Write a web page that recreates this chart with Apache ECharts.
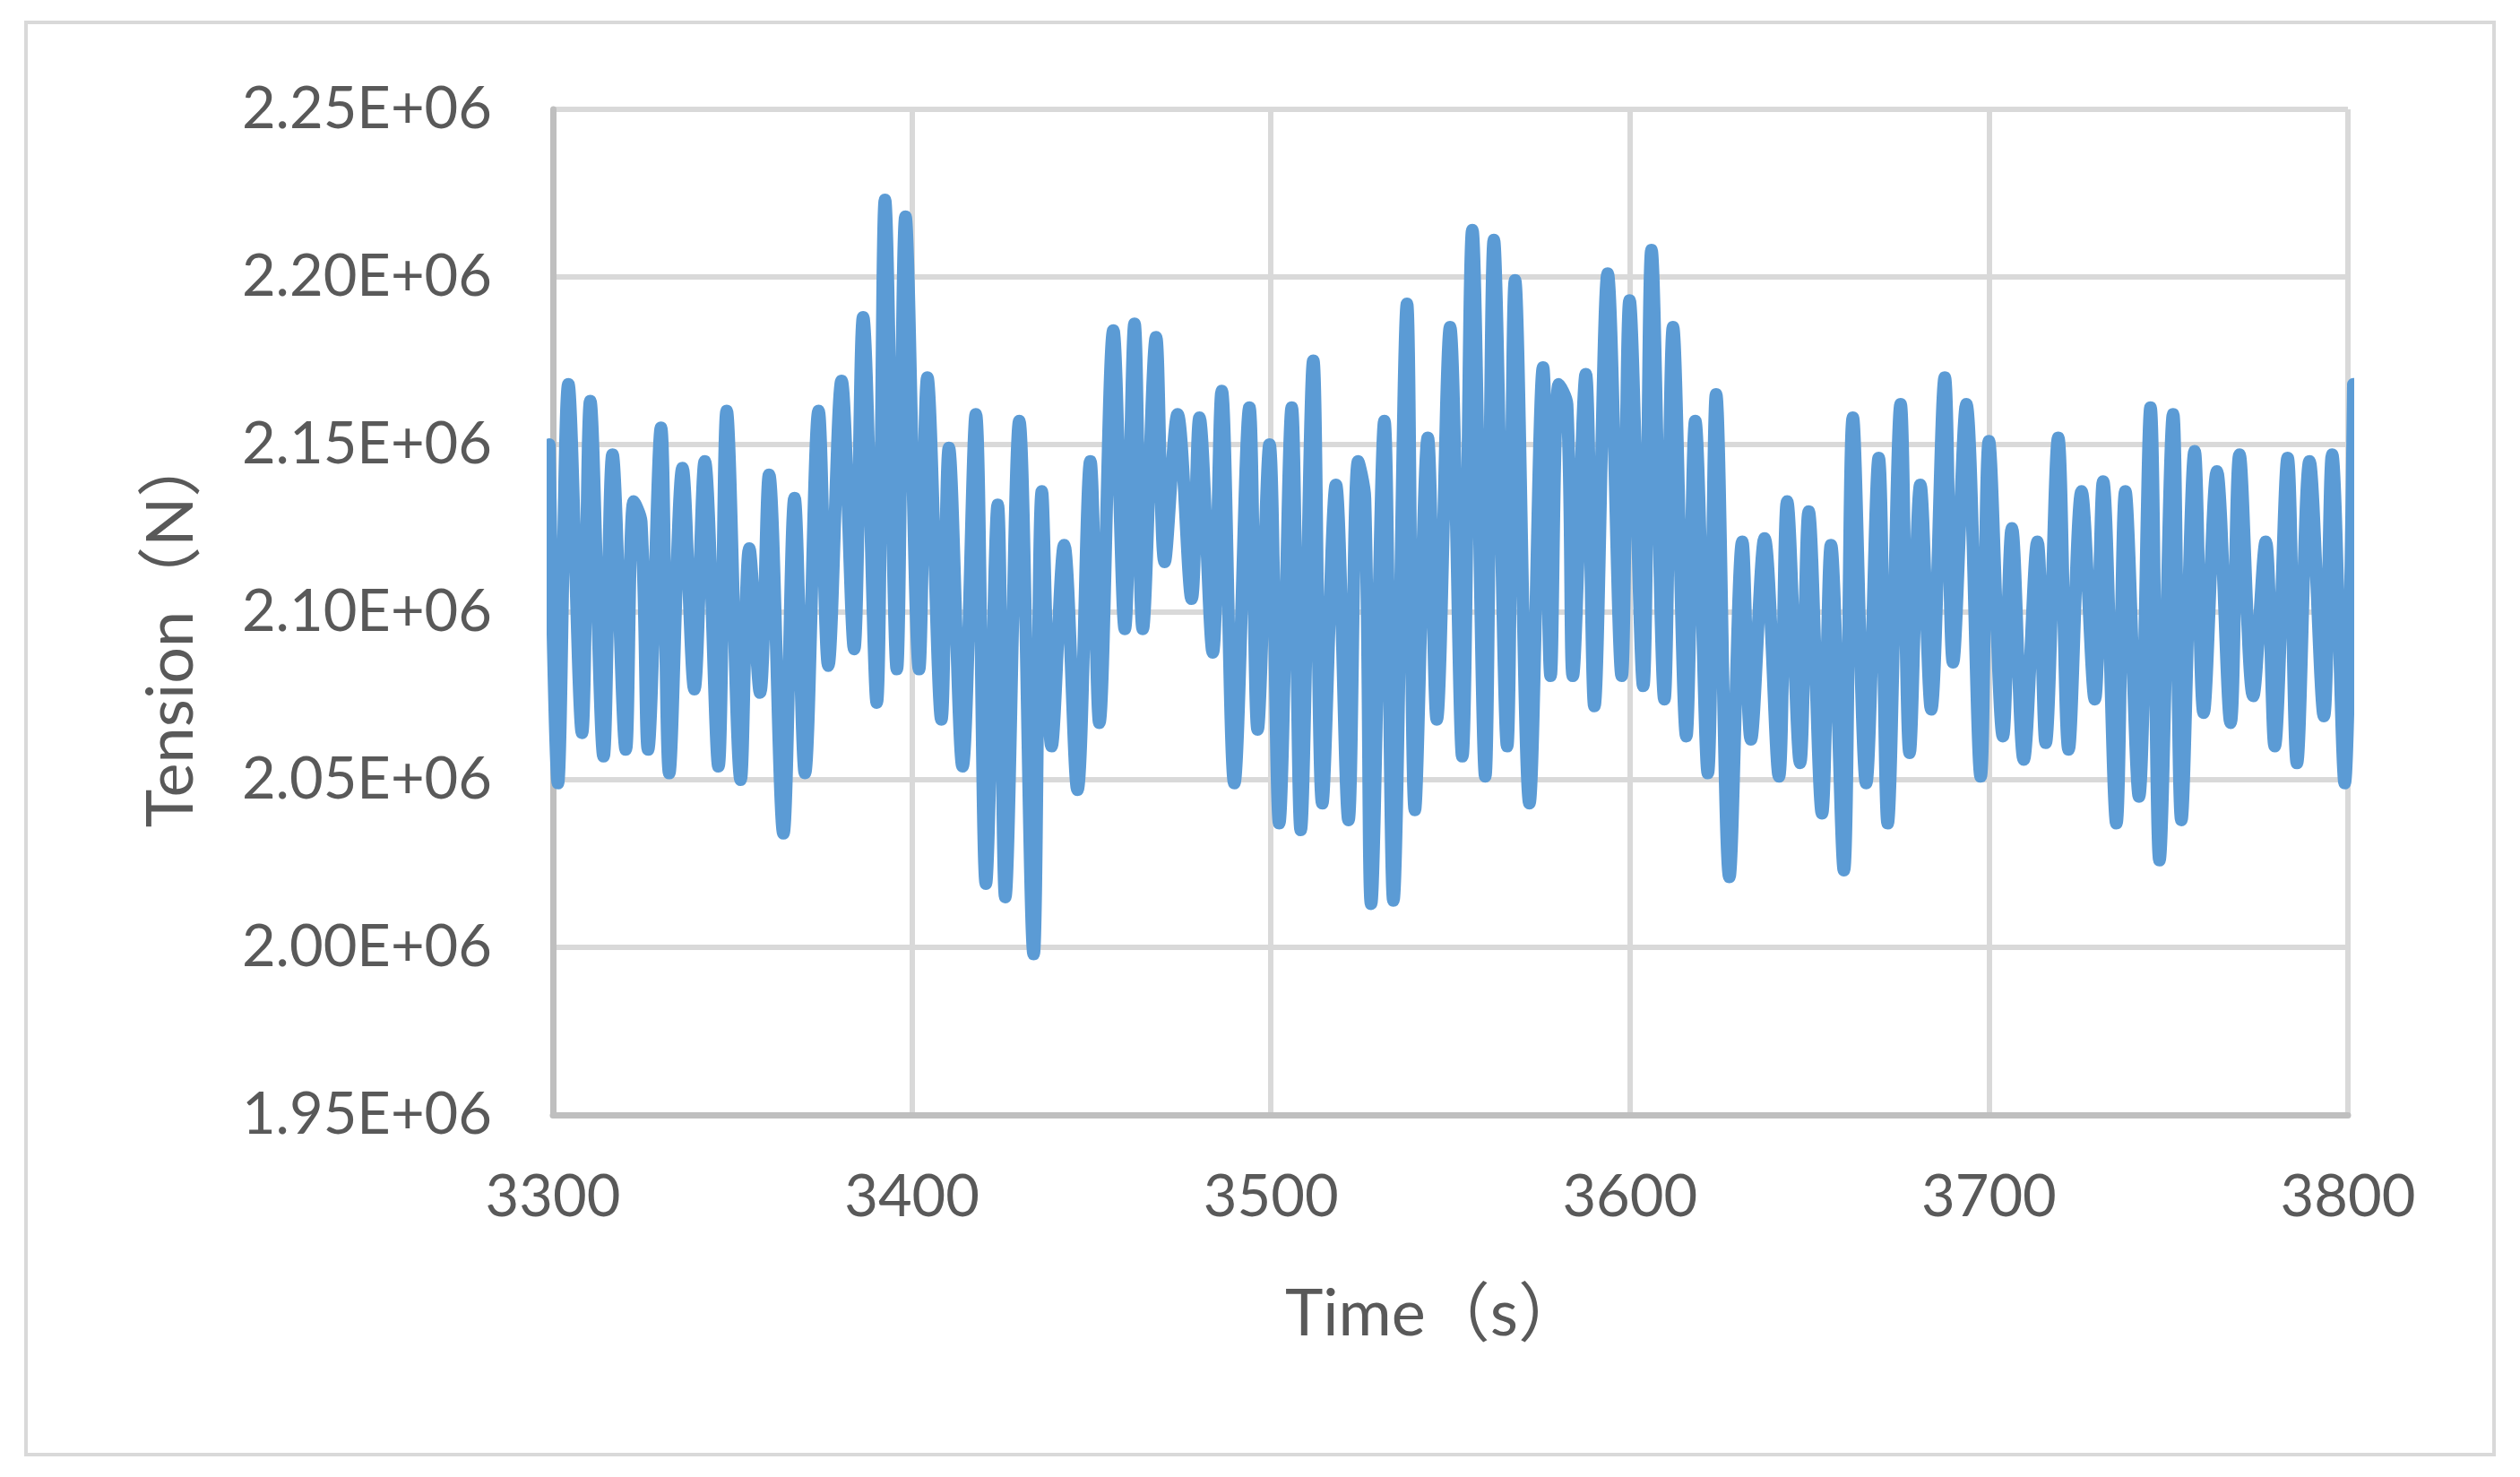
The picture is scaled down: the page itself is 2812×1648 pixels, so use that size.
<!DOCTYPE html>
<html>
<head>
<meta charset="utf-8">
<script src="https://cdn.jsdelivr.net/npm/echarts@6/dist/echarts.min.js"></script>
<style>
html,body{margin:0;padding:0;background:#fff;}
#chart{width:2812px;height:1648px;}
</style>
</head>
<body>
<div id="chart"></div>
<script>
// Time (s) of each turning point
const time = [
3299.0,3301.4,3304.3,3308.1,3310.4,3314.1,3316.6,3320.3,3322.5,3324.6,3326.5,3330.1,3332.4,3336.1,3339.4,3342.3,3346.1,3348.4,3352.3,3354.7,3357.7,3360.2,
3364.2,3367.3,3370.2,3374.0,3376.7,3380.4,3383.9,3386.4,3390.2,3392.5,3395.8,3398.2,3402.0,3404.3,3408.2,3410.3,3414.1,3417.8,3420.6,3423.9,
3426.0,3429.9,3433.9,3436.2,3438.9,3442.4,3446.1,3449.7,3452.2,3456.1,3459.3,3462.0,3464.3,3468.0,3470.4,3474.0,3477.9,3480.1,3483.8,3486.3,
3489.8,3494.0,3496.3,3499.6,3502.3,3505.8,3508.3,3511.8,3514.3,3518.1,3521.6,3524.3,3526.2,3527.9,3531.6,3534.1,3537.9,3540.1,3543.7,3546.2,3549.9,
3553.3,3556.1,3559.7,3562.1,3565.8,3568.0,3572.0,3575.8,3577.9,3580.2,3582.5,3584.1,3587.7,3590.1,3593.8,3597.7,3599.9,3603.7,3606.0,3609.6,3612.0,3615.7,
3618.2,3621.7,3624.0,3627.7,3631.3,3633.7,3637.5,3641.5,3643.8,3647.4,3649.8,3653.5,3656.0,3659.6,3662.1,3665.8,3669.3,3671.8,3675.4,3677.9,
3680.9,3683.9,3687.7,3690.0,3693.7,3697.7,3700.0,3703.9,3706.4,3709.7,3713.5,3715.8,3719.3,3722.2,3725.8,3729.5,3731.8,3735.5,3738.0,3741.8,
3745.0,3747.5,3751.3,3753.6,3757.3,3759.8,3763.5,3767.3,3769.8,3773.6,3777.1,3779.6,3783.2,3785.8,3789.3,3793.3,3795.6,3799.1,3801.5
];
// Tension (N) at those times
const tension = [
2.150e6,2.049e6,2.168e6,2.064e6,2.163e6,2.057e6,2.147e6,2.059e6,2.133e6,2.127e6,2.059e6,2.155e6,2.052e6,2.143e6,2.077e6,2.145e6,2.054e6,2.160e6,2.050e6,2.119e6,2.076e6,2.141e6,
2.034e6,2.134e6,2.052e6,2.160e6,2.084e6,2.169e6,2.089e6,2.188e6,2.073e6,2.223e6,2.083e6,2.218e6,2.083e6,2.170e6,2.068e6,2.149e6,2.054e6,2.159e6,2.019e6,2.132e6,
2.015e6,2.157e6,1.998e6,2.136e6,2.060e6,2.120e6,2.047e6,2.145e6,2.067e6,2.184e6,2.095e6,2.186e6,2.095e6,2.182e6,2.115e6,2.159e6,2.104e6,2.158e6,2.088e6,2.166e6,
2.049e6,2.161e6,2.065e6,2.150e6,2.037e6,2.161e6,2.035e6,2.175e6,2.043e6,2.138e6,2.038e6,2.145e6,2.134e6,2.013e6,2.157e6,2.014e6,2.192e6,2.041e6,2.152e6,2.068e6,2.185e6,
2.057e6,2.214e6,2.051e6,2.211e6,2.060e6,2.199e6,2.043e6,2.173e6,2.081e6,2.168e6,2.162e6,2.081e6,2.171e6,2.072e6,2.201e6,2.081e6,2.193e6,2.078e6,2.208e6,2.074e6,2.185e6,2.063e6,
2.157e6,2.052e6,2.165e6,2.021e6,2.121e6,2.062e6,2.122e6,2.051e6,2.133e6,2.055e6,2.130e6,2.040e6,2.120e6,2.023e6,2.158e6,2.049e6,2.146e6,2.037e6,2.162e6,2.058e6,
2.138e6,2.071e6,2.170e6,2.085e6,2.162e6,2.051e6,2.151e6,2.063e6,2.125e6,2.056e6,2.121e6,2.061e6,2.152e6,2.059e6,2.136e6,2.074e6,2.139e6,2.037e6,2.136e6,2.045e6,
2.161e6,2.026e6,2.159e6,2.038e6,2.148e6,2.070e6,2.142e6,2.067e6,2.147e6,2.075e6,2.121e6,2.060e6,2.146e6,2.055e6,2.145e6,2.069e6,2.147e6,2.049e6,2.168e6
];
const xTickLabels = ['3300','3400','3500','3600','3700','3800'];
const yTickLabels = ['1.95E+06','2.00E+06','2.05E+06','2.10E+06','2.15E+06','2.20E+06','2.25E+06'];
const xTitle = 'Time（s）';
const yTitle = 'Tension（N）';

const seriesData = time.map((t, i) => [t, tension[i]]);
const FONT = 'Lato, "Noto Sans CJK SC", sans-serif';
const TXT = '#595959';

const chart = echarts.init(document.getElementById('chart'), null, {renderer: 'canvas'});
chart.setOption({
  animation: false,
  backgroundColor: '#ffffff',
  grid: {left: 617, right: 192, top: 122, bottom: 404, containLabel: false},
  xAxis: {
    type: 'value', min: 3300, max: 3800, interval: 100,
    axisLine: {show: true, lineStyle: {color: '#bfbfbf', width: 7}},
    axisTick: {show: false},
    splitLine: {show: true, lineStyle: {color: '#d9d9d9', width: 6}},
    axisLabel: {
      margin: 60, color: TXT, fontSize: 65, fontFamily: FONT,
      formatter: (v, i) => xTickLabels[i] !== undefined ? xTickLabels[i] : String(v)
    }
  },
  yAxis: {
    type: 'value', min: 1950000, max: 2250000, interval: 50000,
    axisLine: {show: true, lineStyle: {color: '#bfbfbf', width: 7}},
    axisTick: {show: false},
    splitLine: {show: true, lineStyle: {color: '#d9d9d9', width: 6}},
    axisLabel: {
      margin: 68, color: TXT, fontSize: 65, fontFamily: FONT,
      formatter: (v, i) => yTickLabels[i] !== undefined ? yTickLabels[i] : String(v)
    }
  },
  series: [{
    type: 'line',
    data: seriesData,
    showSymbol: false,
    smooth: 0.35,
    clip: true,
    lineStyle: {color: '#5b9bd5', width: 14, cap: 'round', join: 'round'},
    z: 3
  }],
  graphic: [
    {type: 'rect', shape: {x: 29, y: 25, width: 2754, height: 1598},
     style: {fill: null, stroke: '#d9d9d9', lineWidth: 4}, silent: true, z: -1},
    {type: 'text', x: 1600, y: 1467,
     style: {text: xTitle, fontSize: 72, fontFamily: FONT, fill: TXT, align: 'center', verticalAlign: 'middle'}},
    {type: 'text', x: 192, y: 703, rotation: Math.PI / 2,
     style: {text: yTitle, fontSize: 72, fontFamily: FONT, fill: TXT, align: 'center', verticalAlign: 'middle'}}
  ]
});
</script>
</body>
</html>
